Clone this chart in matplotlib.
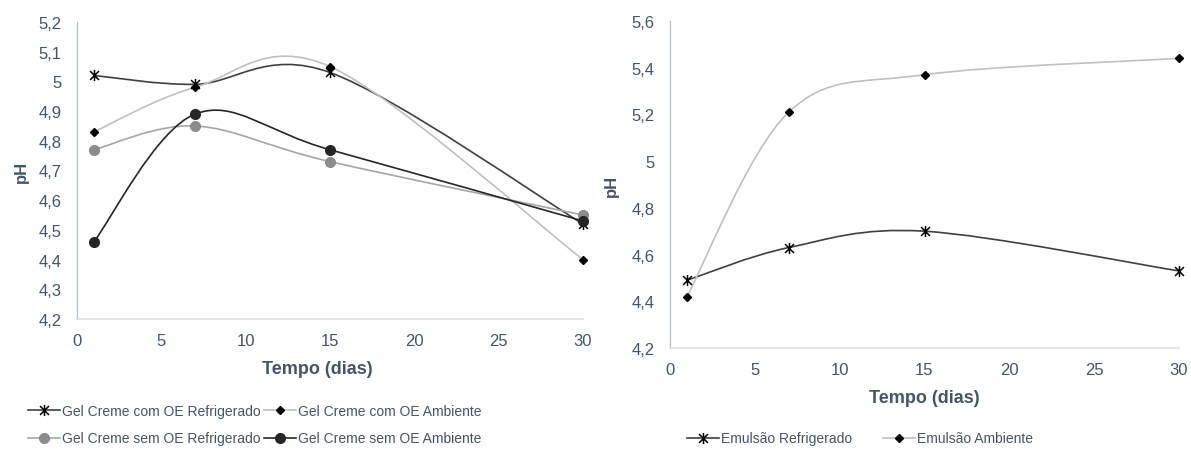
import matplotlib.pyplot as plt
from matplotlib.path import Path
from matplotlib.patches import PathPatch
from matplotlib.lines import Line2D

plt.rcParams['font.family'] = ['Liberation Sans', 'DejaVu Sans']

dias = [1, 7, 15, 30]

# painel esquerdo - gel creme
gel_com_refrig = [5.02, 4.99, 5.03, 4.52]
gel_com_amb = [4.83, 4.98, 5.05, 4.40]
gel_sem_refrig = [4.77, 4.85, 4.73, 4.55]
gel_sem_amb = [4.46, 4.89, 4.77, 4.53]

# painel direito - emulsao
emu_refrig = [4.49, 4.63, 4.70, 4.53]
emu_amb = [4.42, 5.21, 5.37, 5.44]

left_ticks = [4.2, 4.3, 4.4, 4.5, 4.6, 4.7, 4.8, 4.9, 5.0, 5.1, 5.2]
left_labels = ['4,2', '4,3', '4,4', '4,5', '4,6', '4,7', '4,8', '4,9', '5', '5,1', '5,2']
right_ticks = [4.2, 4.4, 4.6, 4.8, 5.0, 5.2, 5.4, 5.6]
right_labels = ['4,2', '4,4', '4,6', '4,8', '5', '5,2', '5,4', '5,6']

TXT = '#44546a'
DARK = '#404040'
LIGHT = '#c0c0c0'
GRAY = '#a6a6a6'

star = Path([(-1, -1), (1, 1), (-1, 1), (1, -1), (0, -1.25), (0, 1.25)],
            [Path.MOVETO, Path.LINETO, Path.MOVETO, Path.LINETO, Path.MOVETO, Path.LINETO])


def smooth(ax, x, y, color):
    # excel-like smoothed line: cubic bezier, catmull-rom control points
    pts = list(zip(x, y))
    verts = [pts[0]]
    codes = [Path.MOVETO]
    n = len(pts)
    for i in range(n - 1):
        p0 = pts[max(i - 1, 0)]
        p1 = pts[i]
        p2 = pts[i + 1]
        p3 = pts[min(i + 2, n - 1)]
        c1 = (p1[0] + (p2[0] - p0[0]) / 6, p1[1] + (p2[1] - p0[1]) / 6)
        c2 = (p2[0] - (p3[0] - p1[0]) / 6, p2[1] - (p3[1] - p1[1]) / 6)
        verts += [c1, c2, p2]
        codes += [Path.CURVE4] * 3
    ax.add_patch(PathPatch(Path(verts, codes), fill=False, edgecolor=color,
                           lw=1.2, transform=ax.transData, zorder=2))


def style(ax, ticks, labels):
    ax.set_xlim(0, 30)
    ax.set_ylim(ticks[0], ticks[-1])
    ax.set_xticks([0, 5, 10, 15, 20, 25, 30])
    ax.set_yticks(ticks)
    ax.set_yticklabels(labels)
    ax.tick_params(axis='y', length=0, labelsize=12, colors=TXT, pad=11)
    ax.tick_params(axis='x', length=0, labelsize=12, colors=TXT, pad=10)
    for s in ['top', 'right']:
        ax.spines[s].set_visible(False)
    ax.spines['left'].set_color('#b8c2cf')
    ax.spines['bottom'].set_color('#dde1e6')
    ax.spines['left'].set_linewidth(0.9)
    ax.spines['bottom'].set_linewidth(1.2)
    ax.set_ylabel('pH', fontsize=12, fontweight='bold', color=TXT, labelpad=7)
    ax.set_xlabel('Tempo (dias)', fontsize=13, fontweight='bold', color=TXT, labelpad=9)


fig = plt.figure(figsize=(11.91, 4.52), dpi=100)
ax1 = fig.add_axes([77 / 1191, 1 - 320 / 452, 506 / 1191, 297 / 452])
ax2 = fig.add_axes([670 / 1191, 1 - 349 / 452, 509 / 1191, 327 / 452])

series_left = [
    (gel_com_refrig, DARK, dict(marker=star, ms=8, mec='black', mew=1.1, mfc='none'), 'Gel Creme com OE Refrigerado'),
    (gel_com_amb, LIGHT, dict(marker='D', ms=4.5, mec='black', mfc='black'), 'Gel Creme com OE Ambiente'),
    (gel_sem_refrig, GRAY, dict(marker='o', ms=7, mec='#8c8c8c', mfc='#8c8c8c'), 'Gel Creme sem OE Refrigerado'),
    (gel_sem_amb, '#262626', dict(marker='o', ms=7, mec='#262626', mfc='#262626'), 'Gel Creme sem OE Ambiente'),
]
handles = []
for vals, col, mk, lab in series_left:
    smooth(ax1, dias, vals, col)
    ax1.plot(dias, vals, ls='none', zorder=3, clip_on=False, **mk)
    handles.append(Line2D([], [], color=col, lw=1.2, label=lab, **mk))
style(ax1, left_ticks, left_labels)
ax1.yaxis.label.set_position((0, 0.5))
ax1.xaxis.label.set_position((0.475, 0))
# legend fills column-wise, so reorder to get row-wise reading
order = [0, 2, 1, 3]
fig.legend(handles=[handles[i] for i in order], loc='lower left', bbox_to_anchor=(22 / 1191, 0.0), ncol=2,
           frameon=False, fontsize=10, labelcolor=TXT, handlelength=2.3,
           handletextpad=0.15, columnspacing=0.3, labelspacing=0.95, borderaxespad=0.0)

series_right = [
    (emu_refrig, DARK, dict(marker=star, ms=8, mec='black', mew=1.1, mfc='none'), 'Emulsão Refrigerado'),
    (emu_amb, LIGHT, dict(marker='D', ms=4.5, mec='black', mfc='black'), 'Emulsão Ambiente'),
]
handles2 = []
for vals, col, mk, lab in series_right:
    smooth(ax2, dias, vals, col)
    ax2.plot(dias, vals, ls='none', zorder=3, clip_on=False, **mk)
    handles2.append(Line2D([], [], color=col, lw=1.2, label=lab, **mk))
style(ax2, right_ticks, right_labels)
ax2.yaxis.set_label_coords(-0.1, 0.5)
fig.legend(handles=handles2, loc='lower center', bbox_to_anchor=(860 / 1191, 0.0), ncol=2,
           frameon=False, fontsize=10, labelcolor=TXT, handlelength=2.3,
           handletextpad=0.15, columnspacing=2.2, borderaxespad=0.0)

fig.savefig('out.png', dpi=100)
